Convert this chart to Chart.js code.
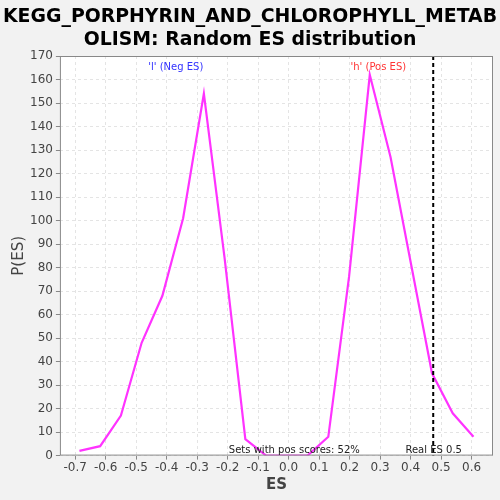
<!DOCTYPE html>
<html>
<head>
<meta charset="utf-8">
<script src="https://cdn.jsdelivr.net/npm/chart.js@4/dist/chart.umd.min.js"></script>
<style>
  body { margin: 0; background: #f2f2f2; }
  #wrap { width: 500px; height: 500px; }
</style>
</head>
<body>
<div id="wrap"><canvas id="esChart"></canvas></div>
<script>
// DATA
const esValues = [-0.686, -0.618, -0.55, -0.482, -0.414, -0.346, -0.278, -0.21, -0.142, -0.074,
                  -0.006, 0.062, 0.13, 0.198, 0.266, 0.334, 0.402, 0.47, 0.538, 0.606];
const pValues = [2, 4, 17, 48, 68, 101, 154, 84, 7, 0,
                 0, 0, 8, 76, 162, 127, 81, 35, 18, 8];
const xTicks = [-0.7, -0.6, -0.5, -0.4, -0.3, -0.2, -0.1, 0, 0.1, 0.2, 0.3, 0.4, 0.5, 0.6];
const realES = 0.474;

const titleLines = ["KEGG_PORPHYRIN_AND_CHLOROPHYLL_METAB", "OLISM: Random ES distribution"];

// PLUGIN: title, white plot area, border, markers and notes
const extras = {
	id: "extras",
	beforeDraw(chart) {
		const a = chart.chartArea, ctx = chart.ctx;
		ctx.save();
		ctx.fillStyle = "#ffffff";
		ctx.fillRect(a.left, a.top, a.right - a.left, a.bottom - a.top);
		// title, centred on the whole canvas, squeezed a bit like a narrow bold face
		ctx.fillStyle = "#000";
		ctx.font = "bold 20px 'DejaVu Sans'";
		ctx.textAlign = "center";
		ctx.textBaseline = "middle";
		const sx = Math.min(1, 494 / ctx.measureText(titleLines[0]).width);
		ctx.translate(chart.width / 2, 0);
		ctx.scale(sx, 1);
		ctx.fillText(titleLines[0], 0, 17);
		ctx.fillText(titleLines[1], 0, 40);
		ctx.restore();
	},
	afterDatasetsDraw(chart) {
		const a = chart.chartArea, ctx = chart.ctx;
		const x = chart.scales.x, y = chart.scales.y;
		ctx.save();
		// real ES line
		ctx.strokeStyle = "#000";
		ctx.lineWidth = 2;
		ctx.setLineDash([4, 3]);
		ctx.beginPath();
		ctx.moveTo(x.getPixelForValue(realES), a.top);
		ctx.lineTo(x.getPixelForValue(realES), a.bottom);
		ctx.stroke();
		ctx.setLineDash([]);
		// border
		ctx.strokeStyle = "#888";
		ctx.lineWidth = 1;
		ctx.strokeRect(a.left + 0.5, a.top + 0.5, a.right - a.left - 1, a.bottom - a.top - 1);
		// texts
		ctx.font = "10px 'DejaVu Sans'";
		ctx.textBaseline = "middle";
		ctx.textAlign = "center";
		ctx.fillStyle = "#3333ff";
		ctx.fillText("'l' (Neg ES)", x.getPixelForValue(-0.37), y.getPixelForValue(165));
		ctx.fillStyle = "#ff3333";
		ctx.fillText("'h' (Pos ES)", x.getPixelForValue(0.294), y.getPixelForValue(165));
		ctx.fillStyle = "#222";
		ctx.textAlign = "left";
		ctx.textBaseline = "bottom";
		ctx.fillText("Sets with pos scores: 52%", x.getPixelForValue(-0.196), a.bottom);
		ctx.fillText("Real ES 0.5", x.getPixelForValue(0.383), a.bottom);
		ctx.restore();
	}
};

// CONFIG
const config = {
	type: "line",
	data: {
		datasets: [{
			data: esValues.map((v, i) => ({ x: v, y: pValues[i] })),
			borderColor: "#ff33ff",
			borderWidth: 2.2,
			pointRadius: 0,
			tension: 0,
			fill: false
		}]
	},
	options: {
		responsive: true,
		maintainAspectRatio: false,
		animation: false,
		layout: { padding: { left: 8, right: 7, top: 56, bottom: 6 } },
		plugins: {
			legend: { display: false },
			tooltip: { enabled: false },
			title: { display: false }
		},
		scales: {
			x: {
				type: "linear",
				min: -0.75,
				max: 0.67,
				afterBuildTicks: (s) => { s.ticks = xTicks.map(v => ({ value: v })); },
				ticks: {
					color: "#444",
					font: { family: "'DejaVu Sans'", size: 12 },
					callback: (v) => v.toFixed(1),
					maxRotation: 0,
					autoSkip: false,
					padding: 1
				},
				grid: { color: "#e4e4e4", tickLength: 4, tickColor: "#888" },
				border: { display: false, dash: [3, 3] },
				title: {
					display: true,
					text: "ES",
					color: "#444",
					font: { family: "'DejaVu Sans'", size: 15, weight: "bold" },
					padding: { top: 0, bottom: 0 }
				}
			},
			y: {
				min: 0,
				max: 170,
				ticks: {
					stepSize: 10,
					color: "#444",
					font: { family: "'DejaVu Sans'", size: 12 },
					padding: 3
				},
				grid: { color: "#e4e4e4", tickLength: 4, tickColor: "#888" },
				border: { display: false, dash: [3, 3] },
				title: {
					display: true,
					text: "P(ES)",
					color: "#444",
					font: { family: "'DejaVu Sans'", size: 15, lineHeight: 1 },
					padding: { top: 4, bottom: 0 }
				}
			}
		}
	},
	plugins: [extras]
};

// RENDER
const esChart = new Chart(document.getElementById("esChart"), config);
</script>
</body>
</html>
